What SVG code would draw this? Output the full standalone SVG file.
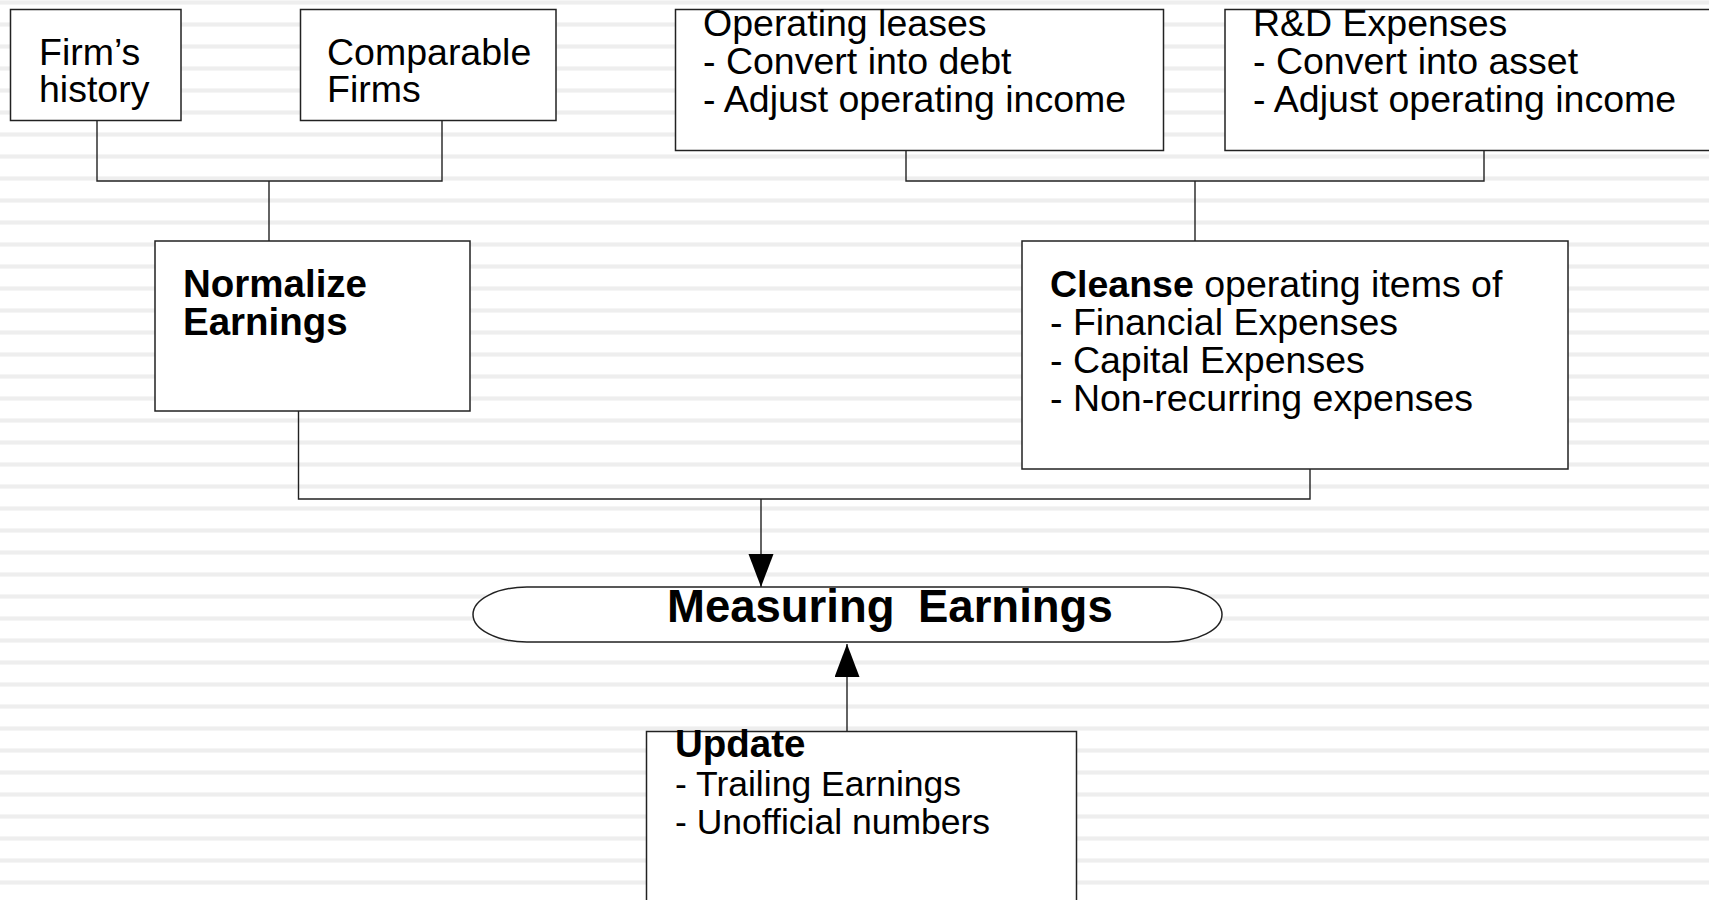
<svg xmlns="http://www.w3.org/2000/svg" width="1709" height="900" viewBox="0 0 1709 900">
<style>
.box{fill:#fff;stroke:#222;stroke-width:1.5}
.t{font-family:"Liberation Sans",Arial,sans-serif;font-size:37.5px;fill:#000}
.b{font-weight:bold}
.s{font-size:35.5px}
.c{fill:none;stroke:#222;stroke-width:1.4}
</style>
<defs>
<pattern id="stripes" patternUnits="userSpaceOnUse" x="0" y="0" width="20" height="22">
<rect x="0" y="0" width="20" height="5" fill="#f5f5f5"/>
<rect x="0" y="1" width="20" height="3" fill="#eeeeee"/>
</pattern>
<marker id="arr" markerUnits="userSpaceOnUse" markerWidth="34" markerHeight="26" refX="33" refY="12.5" orient="auto" viewBox="0 0 34 26">
<path d="M0,0 L33,12.5 L0,25 Z" fill="#000"/>
</marker>
</defs>
<rect x="0" y="0" width="1709" height="900" fill="#fff"/>
<rect x="0" y="0" width="1709" height="900" fill="url(#stripes)"/>

<g id="connectors">
<polyline class="c" points="97,121 97,181 442,181 442,121"/>
<line class="c" x1="269" y1="181" x2="269" y2="241"/>
<polyline class="c" points="906,150 906,181 1484,181 1484,150"/>
<line class="c" x1="1195" y1="181" x2="1195" y2="241"/>
<polyline class="c" points="298.5,411 298.5,499 1310,499 1310,469"/>
<line class="c" x1="761" y1="499" x2="761" y2="587" marker-end="url(#arr)"/>
<line class="c" x1="847" y1="731" x2="847" y2="644" marker-end="url(#arr)"/>
</g>

<g id="firms-history">
<rect class="box" x="10.5" y="9.5" width="170.5" height="111"/>
<text class="t" x="39" y="65">Firm’s</text>
<text class="t" x="39" y="102">history</text>
</g>

<g id="comparable-firms">
<rect class="box" x="300.5" y="9.5" width="255.5" height="111"/>
<text class="t" x="327" y="65">Comparable</text>
<text class="t" x="327" y="102">Firms</text>
</g>

<g id="operating-leases">
<rect class="box" x="675.5" y="9.5" width="488" height="141"/>
<text class="t" x="703" y="36">Operating leases</text>
<text class="t" x="703" y="74">- Convert into debt</text>
<text class="t" x="703" y="112">- Adjust operating income</text>
</g>

<g id="rd-expenses">
<rect class="box" x="1225" y="9.5" width="495" height="141"/>
<text class="t" x="1253" y="36">R&amp;D Expenses</text>
<text class="t" x="1253" y="74">- Convert into asset</text>
<text class="t" x="1253" y="112">- Adjust operating income</text>
</g>

<g id="normalize-earnings">
<rect class="box" x="155" y="241" width="315" height="170"/>
<text class="t b" style="font-size:38.5px" x="183" y="297">Normalize</text>
<text class="t b" style="font-size:38.5px" x="183" y="335">Earnings</text>
</g>

<g id="cleanse">
<rect class="box" x="1022" y="241" width="546" height="228"/>
<text class="t" x="1050" y="297"><tspan class="b">Cleanse</tspan> operating items of</text>
<text class="t" x="1050" y="335">- Financial Expenses</text>
<text class="t" x="1050" y="373">- Capital Expenses</text>
<text class="t" x="1050" y="411">- Non-recurring expenses</text>
</g>

<g id="measuring-earnings">
<path class="box" d="M527,587 H1168 A54,27.5 0 0 1 1168,642 H527 A54,27.5 0 0 1 527,587 Z"/>
<text class="t b" style="font-size:45.5px" x="667" y="622">Measuring</text>
<text class="t b" style="font-size:45.5px" x="918" y="622">Earnings</text>
</g>

<g id="update">
<rect class="box" x="646.5" y="731.5" width="430" height="180"/>
<text class="t b" style="font-size:38.5px" x="675" y="757">Update</text>
<text class="t s" x="675" y="796">- Trailing Earnings</text>
<text class="t s" x="675" y="834">- Unofficial numbers</text>
</g>
</svg>
